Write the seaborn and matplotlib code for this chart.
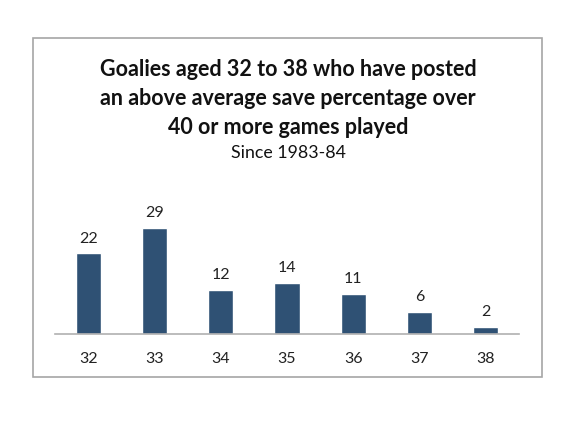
import matplotlib
matplotlib.use('Agg')
import matplotlib.pyplot as plt
import seaborn as sns
from matplotlib.patches import Rectangle

# datos
edades = ['32', '33', '34', '35', '36', '37', '38']
porteros = [22, 29, 12, 14, 11, 6, 2]

titulo = 'Goalies aged 32 to 38 who have posted\nan above average save percentage over\n40 or more games played'
subtitulo = 'Since 1983-84'

sns.set_style('white')
plt.rcParams['font.family'] = ['Lato', 'DejaVu Sans']

W, H = 576, 423
fig = plt.figure(figsize=(W / 100, H / 100), dpi=100)

# marco gris alrededor del grafico
fig.patches.append(Rectangle((33 / W, 1 - 377 / H), (542 - 33) / W, (377 - 38) / H,
                             transform=fig.transFigure, fill=False,
                             edgecolor='#a6a6a6', linewidth=1.2))

# ejes: base en y=334, x de 55 a 519
ymax = 36.5
top_px = 334 - ymax * 3.667
ax = fig.add_axes([55 / W, 1 - 334 / H, (519 - 55) / W, (334 - top_px) / H])
sns.barplot(x=edades, y=porteros, color='#2f5174', saturation=1, width=0.38, ax=ax)
ax.set_ylim(0, ymax)
ax.set_xlim(-0.5, 6.5)
ax.set_yticks([])
ax.set_xlabel('')
ax.set_ylabel('')
sns.despine(ax=ax, left=True, top=True, right=True)
ax.spines['bottom'].set_color('#b0b0b0')
ax.spines['bottom'].set_linewidth(1.2)
ax.tick_params(axis='x', length=0, pad=13, labelsize=11.5, colors='#222222')

for i, v in enumerate(porteros):
    ax.annotate(str(v), (i, v), xytext=(0, 5.5), textcoords='offset points',
                ha='center', va='bottom', fontsize=11.5, color='#222222')

fig.text(288 / W, 1 - 70 / H, titulo.split('\n')[0], ha='center', va='center',
         fontsize=15.5, fontweight='bold', color='#111111')
fig.text(288 / W, 1 - 98.5 / H, titulo.split('\n')[1], ha='center', va='center',
         fontsize=15.5, fontweight='bold', color='#111111')
fig.text(288 / W, 1 - 127 / H, titulo.split('\n')[2], ha='center', va='center',
         fontsize=15.5, fontweight='bold', color='#111111')
fig.text(288 / W, 1 - 153 / H, subtitulo, ha='center', va='center', fontsize=12.8,
         color='#111111')

fig.savefig('out.png', dpi=100)
